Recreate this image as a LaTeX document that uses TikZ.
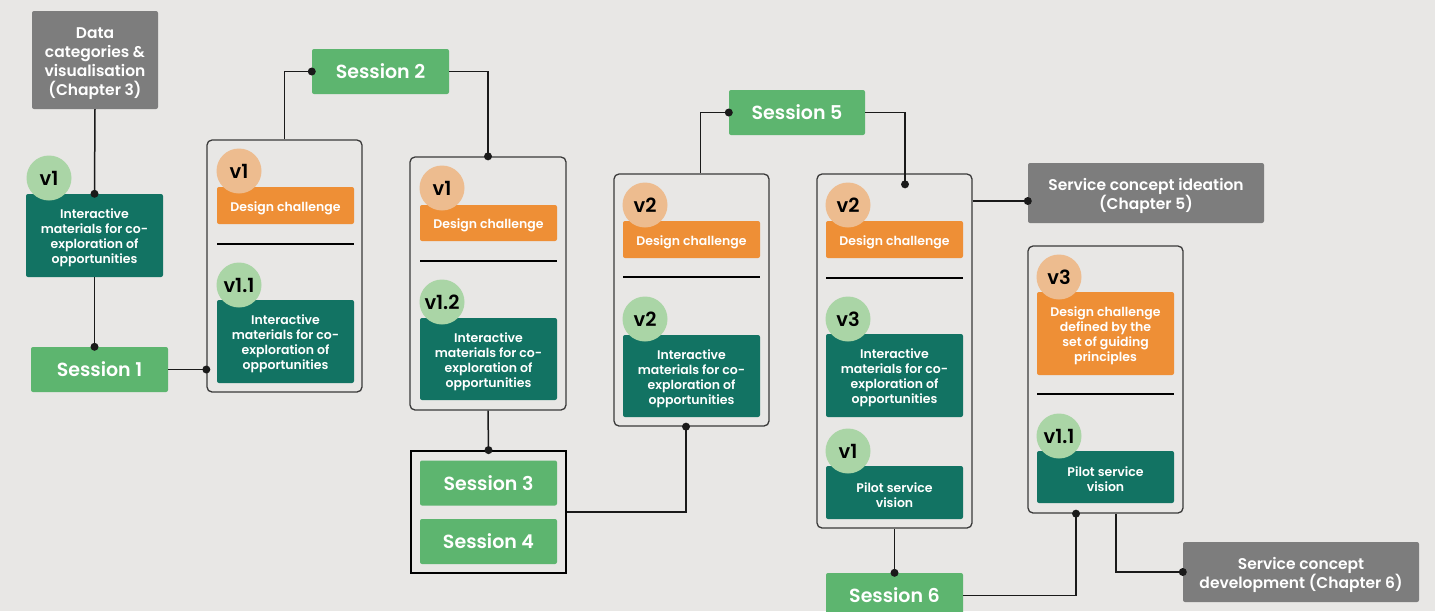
\documentclass[tikz,border=0pt]{standalone}
\usepackage{fontspec}
\setmainfont{Poppins}[BoldFont={Poppins SemiBold}]
\definecolor{pagebg}{HTML}{E8E7E5}
\definecolor{chapgray}{HTML}{7D7D7D}
\definecolor{sessgreen}{HTML}{5DB56F}
\definecolor{matteal}{HTML}{127363}
\definecolor{dcorange}{HTML}{EE8F36}
\definecolor{verorange}{HTML}{EDBC8F}
\definecolor{vergreen}{HTML}{AAD5A6}
\definecolor{linec}{HTML}{1A1A1A}
\definecolor{framec}{HTML}{3A3A3A}
% a taller first line lowers a text block a little inside its box
\newcommand\chaplift{\rule{0pt}{17.5pt}}
\newcommand\matlift{\rule{0pt}{15pt}}
\begin{document}
\begin{tikzpicture}[x=1pt,y=-1pt,
  every node/.style={inner sep=0pt, align=center},
  chap/.style={fill=chapgray, rounded corners=2pt, text=white,
    font=\bfseries\fontsize{15.5}{19}\selectfont},
  sess/.style={fill=sessgreen, rounded corners=2pt, text=white,
    minimum width=137pt, minimum height=45pt,
    font=\bfseries\fontsize{19}{22}\selectfont},
  mat/.style={fill=matteal, rounded corners=2pt, text=white,
    minimum width=137pt, font=\bfseries\fontsize{12.5}{15}\selectfont},
  dc/.style={fill=dcorange, rounded corners=2pt, text=white,
    minimum width=137pt, font=\bfseries\fontsize{12.5}{15}\selectfont},
  vo/.style={circle, fill=verorange, minimum size=45pt,
    font=\bfseries\fontsize{19.5}{20}\selectfont},
  vg/.style={circle, fill=vergreen, minimum size=45pt,
    font=\bfseries\fontsize{19.5}{20}\selectfont},
  group/.style={draw=framec, line width=1.3pt, rounded corners=5pt},
  sepline/.style={draw=black, line width=1.8pt},
  conn/.style={draw=linec, line width=1.5pt},
  dotc/.style={fill=linec}]

% canvas
\fill[pagebg] (0,0) rectangle (1435,611);
\clip (0,0) rectangle (1435,611);

% ---- group frames ----
\node[group, minimum width=155pt, minimum height=252pt] (b1) at (284.5,266) {};
\node[group, minimum width=156pt, minimum height=253pt] (b2) at (488,283.5) {};
\node[draw=black, line width=1.8pt, minimum width=155pt, minimum height=122pt] (ss) at (488.5,512) {};
\node[group, minimum width=155pt, minimum height=252pt] (b3) at (691.5,300) {};
\node[group, minimum width=155pt, minimum height=354pt] (b4) at (894.5,351) {};
\node[group, minimum width=155pt, minimum height=267pt] (b5) at (1105.5,379.5) {};

% ---- chapters ----
\node[chap, minimum width=126pt, minimum height=98pt] (g3) at (95,60)
  {\chaplift Data\\categories \&\\visualisation\\(Chapter 3)};
\node[chap, minimum width=236pt, minimum height=60pt] (gc5) at (1146,193)
  {\chaplift Service concept ideation\\(Chapter 5)};
\node[chap, minimum width=236pt, minimum height=60pt] (gc6) at (1301,572)
  {\chaplift Service concept\\development (Chapter 6)};

% ---- sessions ----
\node[sess] (s1) at (99.5,369.5) {Session 1};
\node[sess] (s2) at (380.5,71.5) {Session 2};
\node[sess] (s3) at (488.5,483) {Session 3};
\node[sess] (s4) at (488.5,541.5) {Session 4};
\node[sess, minimum width=136pt] (s5) at (797,112.5) {Session 5};
\node[sess] (s6) at (894.5,595.5) {Session 6};

% ---- initial materials ----
\node[mat, minimum height=83pt] (t0) at (94.5,235.5)
  {\matlift Interactive\\materials for co-\\exploration of\\opportunities};
\node[vg] (v0) at (49,178) {v1};

% ---- group 1 ----
\node[dc, minimum height=37pt] (o1) at (285.5,205.5) {\matlift Design challenge};
\node[vo] (vo1) at (239,171) {v1};
\draw[sepline] (217,244) -- (354,244);
\node[mat, minimum height=83pt] (t1) at (285.5,341.5)
  {\matlift Interactive\\materials for co-\\exploration of\\opportunities};
\node[vg] (vt1) at (239,285) {v1.1};

% ---- group 2 ----
\node[dc, minimum height=36pt] (o2) at (488.5,223) {\matlift Design challenge};
\node[vo] (vo2) at (442,188) {v1};
\draw[sepline] (420,261) -- (557,261);
\node[mat, minimum height=82pt] (t2) at (488.5,359)
  {\matlift Interactive\\materials for co-\\exploration of\\opportunities};
\node[vg] (vt2) at (442,302) {v1.2};

% ---- group 3 ----
\node[dc, minimum height=37pt] (o3) at (691.5,239.5) {\matlift Design challenge};
\node[vo] (vo3) at (645,205) {v2};
\draw[sepline] (623,277) -- (760,277);
\node[mat, minimum height=82pt] (t3) at (691.5,376)
  {\matlift Interactive\\materials for co-\\exploration of\\opportunities};
\node[vg] (vt3) at (645,319) {v2};

% ---- group 4 ----
\node[dc, minimum height=37pt] (o4) at (894.5,239.5) {\matlift Design challenge};
\node[vo] (vo4) at (848,205) {v2};
\draw[sepline] (826,278) -- (963,278);
\node[mat, minimum height=83pt] (t4) at (894.5,375.5)
  {\matlift Interactive\\materials for co-\\exploration of\\opportunities};
\node[vg] (vt4) at (848,319) {v3};
\node[mat, minimum height=53pt] (p4) at (894.5,492.5) {\matlift Pilot service\\vision};
\node[vg] (vp4) at (848,451) {v1};

% ---- group 5 ----
\node[dc, minimum height=83pt] (o5) at (1105.5,333.5)
  {\matlift Design challenge\\defined by the\\set of guiding\\principles};
\node[vo] (vo5) at (1059,277) {v3};
\draw[sepline] (1037,394) -- (1174,394);
\node[mat, minimum height=52pt] (p5) at (1105.5,477) {\matlift Pilot service\\vision};
\node[vg] (vp5) at (1059,436) {v1.1};

% ---- connector end points ----
\coordinate (s1top) at (t0.south |- s1.north);
\coordinate (b3bot) at ([xshift=-5.5pt]b3.south);
\coordinate (b3top) at ([xshift=9pt]b3.north);
\coordinate (b4in) at ([xshift=10.5pt,yshift=-11pt]b4.north);
\coordinate (c5) at ([yshift=-8pt]gc5.west);
\coordinate (b5l) at ([xshift=-29.5pt]b5.south);
\coordinate (b5r) at ([xshift=10.5pt]b5.south);

% ---- connectors ----
\draw[conn] (g3.south) -- (t0.north);
\draw[conn] (t0.south) -- (s1top);
\draw[conn] (s1.east) -- (s1.east -| b1.west);
\draw[conn] (b1.north) |- (s2.west);
\draw[conn] (s2.east) -| (b2.north);
\draw[conn] (b2.south) -- (ss.north);
\draw[conn] (ss.east) -| (b3bot);
\draw[conn] (b3top) |- (s5.west);
\draw[conn] (s5.east) -| (b4in);
\draw[conn] (c5 -| b4.east) -- (c5);
\draw[conn] (b4.south) -- (s6.north);
\draw[conn] (s6.east) -| (b5l);
\draw[conn] (b5r) |- (gc6.west);

% ---- junction dots ----
\foreach \p in {t0.north, s1top, s2.west, b2.north, ss.north, b3bot,
  s5.west, b4in, c5, s6.north, b5l, gc6.west}
  \fill[dotc] (\p) circle (4pt);
\fill[dotc] (s1.east -| b1.west) circle (4pt);
\end{tikzpicture}
\end{document}
